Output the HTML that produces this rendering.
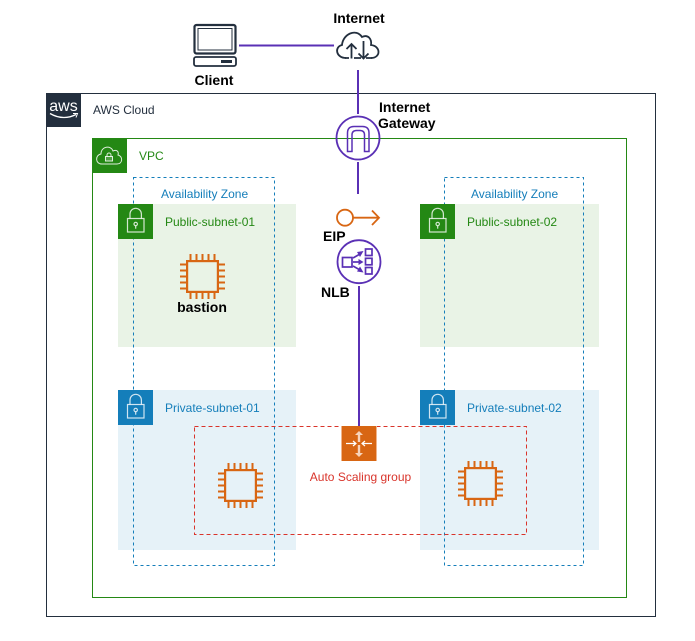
<!DOCTYPE html>
<html>
<head>
<meta charset="utf-8">
<style>
html,body{margin:0;padding:0;background:#fff;}
svg{display:block;}
text{font-family:"Liberation Sans",sans-serif;}
.b{font-size:14px;font-weight:bold;fill:#000;}
.n{font-size:12px;}
</style>
</head>
<body>
<svg width="695" height="641" viewBox="0 0 695 641" xmlns="http://www.w3.org/2000/svg">
<rect width="695" height="641" fill="#fff"/>
<!-- subnets -->
<rect x="118" y="204" width="178" height="143" fill="#E9F3E6"/>
<rect x="420" y="204" width="179" height="143" fill="#E9F3E6"/>
<rect x="118" y="390" width="178" height="160" fill="#E6F2F8"/>
<rect x="420" y="390" width="179" height="160" fill="#E6F2F8"/>
<!-- containers -->
<rect x="46.5" y="93.5" width="609" height="523" fill="none" stroke="#232F3E"/>
<rect x="92.5" y="138.5" width="534" height="459" fill="none" stroke="#248814"/>
<rect x="133.5" y="177.5" width="141" height="388" fill="none" stroke="#147EBA" stroke-dasharray="3 3"/>
<rect x="444.5" y="177.5" width="139" height="388" fill="none" stroke="#147EBA" stroke-dasharray="3 3"/>
<rect x="194.5" y="426.5" width="332" height="108" fill="none" stroke="#D9342B" stroke-dasharray="4 3"/>
<!-- AWS icon -->
<rect x="46" y="93" width="35" height="34" fill="#232F3E"/>
<text x="63.5" y="111" text-anchor="middle" style="font-size:16px;font-weight:normal" fill="#fff">aws</text>
<path d="M50 113.500 Q63 121 76 114.500" fill="none" stroke="#fff" stroke-width="1.300"/>
<path d="M73 113.500 L77.500 113.500 L76 117.500" fill="none" stroke="#fff" stroke-width="1"/>
<text x="93" y="114" class="n" fill="#232F3E">AWS Cloud</text>
<!-- VPC icon -->
<rect x="92" y="138" width="35" height="35" fill="#248814"/>
<path d="M102 164 C95 164 95 155 101 154 C101 146 111 145 113 151 C117 149 119 152 118 155 C123 156 123 164 117 164 Z" fill="none" stroke="#fff" stroke-opacity=".85" stroke-width="1"/>
<rect x="105.500" y="156.500" width="7" height="4.500" fill="#fff" fill-opacity=".2" stroke="#fff" stroke-opacity=".85" stroke-width="1"/>
<path d="M107 156.500 v-1.500 a2 2 0 0 1 4 0 v1.500" fill="none" stroke="#fff" stroke-opacity=".85" stroke-width="1"/>
<text x="139" y="160" class="n" fill="#248814">VPC</text>
<!-- AZ labels -->
<text x="161" y="198" class="n" fill="#147EBA">Availability Zone</text>
<text x="471" y="198" class="n" fill="#147EBA">Availability Zone</text>
<!-- Subnet icons -->
<defs>
<g id="lock" fill="none" stroke="#fff" stroke-opacity=".8" stroke-width="1.200">
<rect x="9.500" y="14.500" width="16.500" height="13.500"/>
<path d="M12 14.500 v-4.500 a5.700 5.700 0 0 1 11.400 0 v4.500"/>
<circle cx="17.700" cy="20" r="1.700"/><path d="M17.700 21.700 v3"/>
</g>
</defs>
<rect x="118" y="204" width="35" height="35" fill="#248814"/>
<use href="#lock" x="118" y="204"/>
<rect x="420" y="204" width="35" height="35" fill="#248814"/>
<use href="#lock" x="420" y="204"/>
<rect x="118" y="390" width="35" height="35" fill="#147EBA"/>
<use href="#lock" x="118" y="390"/>
<rect x="420" y="390" width="35" height="35" fill="#147EBA"/>
<use href="#lock" x="420" y="390"/>
<text x="165" y="226" class="n" fill="#248814">Public-subnet-01</text>
<text x="467" y="226" class="n" fill="#248814">Public-subnet-02</text>
<text x="165" y="412" class="n" fill="#147EBA">Private-subnet-01</text>
<text x="467" y="412" class="n" fill="#147EBA">Private-subnet-02</text>
<!-- connectors -->
<g stroke="#5A30B5" stroke-width="2" fill="none">
<path d="M239 45.500 H334"/>
<path d="M358 70 V114"/>
<path d="M358 162 V194"/>
<path d="M359 286 V426"/>
</g>
<!-- Client -->
<g fill="none" stroke="#232F3E">
<rect x="194.500" y="25" width="41" height="28.500" rx="2" stroke-width="2.200"/>
<rect x="198" y="28.500" width="34" height="21.500" stroke-width="1"/>
<rect x="194" y="57" width="42" height="9" rx="2" stroke-width="1.800"/>
</g>
<rect x="221" y="60" width="11" height="3" fill="#232F3E"/>
<text x="214" y="85" text-anchor="middle" class="b">Client</text>
<!-- Internet -->
<text x="359" y="23" text-anchor="middle" class="b">Internet</text>
<g fill="none" stroke="#232F3E" stroke-width="1.800">
<path d="M346 58 C336 58 334 47 342 45 C343 34 356 28 362 37 C368 34 372 39 371 45 C381 46 381 58 371 58"/>
<path d="M351.500 58.500 V44 M346.500 49 L351.500 44 L356.500 49"/>
<path d="M363.500 41 V58.500 M358.500 53.500 L363.500 58.500 L368.500 53.500"/>
<path d="M345 58 H349 M354 58 H361 M366 58 H372"/>
</g>
<!-- IGW -->
<circle cx="358" cy="138" r="21.500" fill="none" stroke="#5A30B5" stroke-width="1.800"/>
<path d="M347.500 151.500 V133 Q347.500 126.500 354 126.500 H362.500 Q369 126.500 369 133 V151.500 H364.500 V135 Q364.500 130.500 360 130.500 H356.500 Q352 130.500 352 135 V151.500 Z" fill="none" stroke="#5A30B5" stroke-width="1.500"/>
<text x="379" y="112" class="b">Internet</text>
<text x="378" y="128" class="b">Gateway</text>
<!-- EIP -->
<circle cx="345" cy="217.700" r="8" fill="none" stroke="#D86613" stroke-width="1.800"/>
<path d="M353 217.700 H379 M372 210.500 L379 217.700 L372 225" fill="none" stroke="#D86613" stroke-width="1.800"/>
<text x="323" y="241" class="b">EIP</text>
<!-- NLB -->
<circle cx="359" cy="261.700" r="21.500" fill="#fff" stroke="#5A30B5" stroke-width="1.800"/>
<g fill="none" stroke="#5A30B5" stroke-width="1.700">
<rect x="342.500" y="257.500" width="9.500" height="9.500"/>
<rect x="365.500" y="249" width="6.500" height="6.500"/>
<rect x="365.500" y="258.300" width="6.500" height="6.500"/>
<rect x="365.500" y="267.500" width="6.500" height="6.500"/>
<path d="M353 258 L360 254"/>
<path d="M353 262 H360"/>
<path d="M353 266 L360 270"/>
</g>
<g fill="#5A30B5">
<path d="M363.500 251 L357 252 L360 257 Z"/>
<path d="M363.500 262 L358.500 259 V265 Z"/>
<path d="M363.500 272.500 L360 266.500 L357 271.500 Z"/>
</g>
<text x="321" y="297" class="b">NLB</text>
<!-- EC2 -->
<defs>
<g id="chip" fill="none" stroke="#D86613">
<rect x="1.100" y="1.100" width="30.800" height="30.800" stroke-width="2.200"/>
<path stroke-width="2" d="M4.500 -6 V0 M10.500 -6 V0 M16.500 -6 V0 M22.500 -6 V0 M28.500 -6 V0 M4.500 33 V39 M10.500 33 V39 M16.500 33 V39 M22.500 33 V39 M28.500 33 V39 M-6 4.500 H0 M-6 10.500 H0 M-6 16.500 H0 M-6 22.500 H0 M-6 28.500 H0 M33 4.500 H39 M33 10.500 H39 M33 16.500 H39 M33 22.500 H39 M33 28.500 H39"/>
</g>
</defs>
<use href="#chip" x="186" y="260"/>
<use href="#chip" x="224" y="469"/>
<use href="#chip" x="464" y="467"/>
<text x="202" y="312" text-anchor="middle" class="b">bastion</text>
<!-- ASG icon -->
<rect x="341" y="426" width="36" height="35" fill="#D86613"/>
<rect x="341" y="426" width="1" height="35" fill="#F0B48A"/>
<rect x="376" y="426" width="1" height="35" fill="#F0B48A"/>
<g fill="none" stroke="#F7D3BA" stroke-width="2.400">
<path d="M359 434 V442"/>
<path d="M359 445 V453"/>
</g>
<g fill="#F7D3BA">
<path d="M355 435 L359 431 L363 435 Z"/>
<path d="M355 453 L359 457 L363 453 Z"/>
</g>
<g fill="none" stroke="#fff" stroke-width="1.200">
<path d="M346 443.500 H356 M353 441 L356 443.500 L353 446"/>
<path d="M362 443.500 H372 M365 441 L362 443.500 L365 446"/>
</g>
<text x="360.500" y="481" text-anchor="middle" class="n" fill="#D9342B">Auto Scaling group</text>
</svg>
</body>
</html>
